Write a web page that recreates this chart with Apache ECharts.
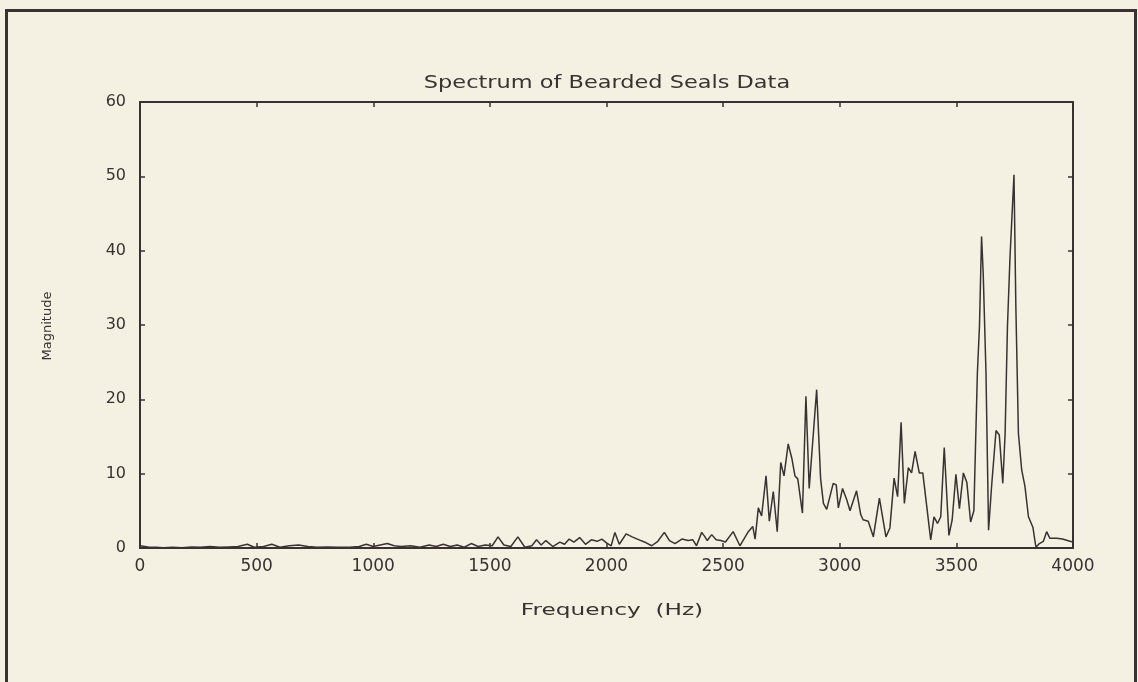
<!DOCTYPE html>
<html>
<head>
<meta charset="utf-8">
<script src="https://cdn.jsdelivr.net/npm/echarts@6/dist/echarts.min.js"></script>
<style>
html,body{margin:0;padding:0;background:#f4f1e2;}
#c{width:1138px;height:682px;}
</style>
</head>
<body>
<div id="c"></div>
<script>
// Data
var freqHz = [0,20,40,70,100,140,180,220,260,300,340,380,420,460,490,530,565,600,640,680,720,760,800,850,900,940,970,1000,1030,1060,1090,1120,1160,1200,1240,1270,1300,1330,1360,1390,1420,1450,1480,1510,1535,1560,1590,1620,1650,1680,1700,1720,1740,1770,1800,1820,1840,1860,1885,1910,1935,1960,1980,2000,2020,2036,2055,2084,2110,2140,2170,2194,2220,2248,2270,2294,2323,2350,2370,2386,2408,2420,2432,2451,2470,2490,2510,2543,2572,2608,2627,2637,2651,2665,2684,2698,2715,2732,2747,2761,2779,2795,2808,2820,2840,2855,2869,2901,2918,2930,2944,2972,2985,2994,3012,3030,3044,3072,3090,3100,3122,3144,3170,3198,3215,3233,3248,3263,3277,3294,3308,3323,3341,3356,3390,3404,3419,3433,3448,3468,3482,3498,3513,3530,3545,3561,3575,3590,3599,3608,3615,3627,3638,3651,3670,3684,3699,3709,3719,3730,3747,3755,3766,3780,3794,3809,3828,3841,3856,3873,3887,3901,3930,3955,3987,4000];
var magnitude = [0.3,0.2,0.1,0.1,0.05,0.1,0.05,0.15,0.1,0.2,0.1,0.15,0.2,0.5,0.1,0.2,0.5,0.1,0.3,0.4,0.2,0.1,0.15,0.1,0.1,0.2,0.5,0.2,0.4,0.6,0.3,0.2,0.3,0.1,0.4,0.2,0.5,0.2,0.4,0.1,0.6,0.2,0.4,0.3,1.5,0.4,0.2,1.5,0.1,0.3,1.1,0.4,1.0,0.2,0.8,0.5,1.2,0.8,1.4,0.5,1.1,0.9,1.2,0.7,0.3,2.1,0.5,1.9,1.5,1.1,0.7,0.3,0.9,2.1,1.0,0.6,1.2,1.0,1.1,0.3,2.1,1.6,1.0,1.8,1.1,1.0,0.8,2.2,0.3,2.2,2.9,1.2,5.4,4.3,9.7,3.6,7.6,2.2,11.5,9.7,14.0,12.0,9.7,9.3,4.7,20.4,8.0,21.3,9.3,6.0,5.2,8.7,8.5,5.4,8.0,6.5,5.0,7.7,4.5,3.8,3.6,1.5,6.7,1.5,2.7,9.4,6.9,16.9,6.0,10.8,10.1,13.0,10.1,10.1,1.1,4.2,3.3,4.2,13.5,1.7,3.8,9.9,5.3,10.1,8.8,3.5,5.0,23.5,29.8,41.9,37.0,23.5,2.4,8.3,15.8,15.2,8.7,15.4,29.8,39.2,50.2,32.5,15.4,10.5,8.3,4.2,2.8,0.1,0.6,0.9,2.2,1.3,1.3,1.2,0.9,0.8];

var titleText = 'Spectrum of Bearded Seals Data';
var xName = 'Frequency  (Hz)';
var yName = 'Magnitude';

var ink = '#3a3232';
var font = 'DejaVu Sans';

var pts = freqHz.map(function(f, i){ return [f, magnitude[i]]; });

var chart = echarts.init(document.getElementById('c'));
var axBase = {
  axisLine: {show: true, onZero: false, lineStyle: {color: ink, width: 2}},
  axisTick: {show: true, inside: true, length: 5, lineStyle: {color: ink, width: 1.5}},
  splitLine: {show: false}
};
chart.setOption({
  backgroundColor: '#f4f1e2',
  animation: false,
  grid: {left: 140, right: 65, top: 102, bottom: 134},
  xAxis: [
    Object.assign({}, axBase, {
      type: 'value', min: 0, max: 4000, interval: 500, position: 'bottom',
      axisLabel: {fontFamily: font, fontSize: 17, color: ink, margin: 10,
        formatter: function(v){ return String(v); }}
    }),
    Object.assign({}, axBase, {
      type: 'value', min: 0, max: 4000, interval: 500, position: 'top',
      axisLabel: {show: false}
    })
  ],
  yAxis: [
    Object.assign({}, axBase, {
      type: 'value', min: 0, max: 60, interval: 10, position: 'left',
      axisLabel: {fontFamily: font, fontSize: 16, color: ink, margin: 14}
    }),
    Object.assign({}, axBase, {
      type: 'value', min: 0, max: 60, interval: 10, position: 'right',
      axisLabel: {show: false}
    })
  ],
  graphic: [
    {
      type: 'rect', left: 4, top: 8, silent: true,
      shape: {width: 1129, height: 700},
      style: {fill: 'none', stroke: ink, lineWidth: 3}
    },
    {
      type: 'text', x: 607, y: 84, scaleX: 1.32, silent: true,
      style: {text: titleText, fontFamily: font, fontSize: 17, fill: ink,
        align: 'center', verticalAlign: 'middle'}
    },
    {
      type: 'text', x: 612, y: 611, scaleX: 1.45, silent: true,
      style: {text: xName, fontFamily: font, fontSize: 16, fill: ink,
        align: 'center', verticalAlign: 'middle'}
    },
    {
      type: 'text', x: 48, y: 326, rotation: Math.PI / 2, silent: true,
      style: {text: yName, fontFamily: font, fontSize: 13, fill: ink,
        align: 'center', verticalAlign: 'middle'}
    }
  ],
  series: [{
    type: 'line', data: pts, showSymbol: false, symbol: 'none',
    xAxisIndex: 0, yAxisIndex: 0,
    lineStyle: {color: ink, width: 1.5}
  }]
});
</script>
</body>
</html>
